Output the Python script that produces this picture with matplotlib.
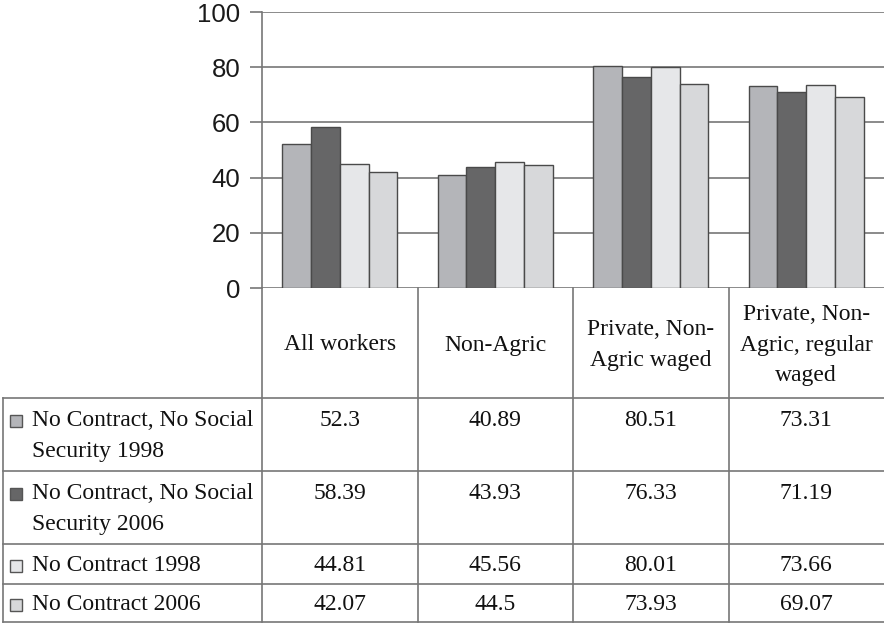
import matplotlib.pyplot as plt
from matplotlib.patches import Rectangle
import numpy as np

# --- Data ---
categories = ["All workers", "Non-Agric", "Private, Non-\nAgric waged",
              "Private, Non-\nAgric, regular\nwaged"]
series_names = ["No Contract, No Social\nSecurity 1998",
                "No Contract, No Social\nSecurity 2006",
                "No Contract 1998",
                "No Contract 2006"]
ncns_1998 = [52.3, 40.89, 80.51, 73.31]
ncns_2006 = [58.39, 43.93, 76.33, 71.19]
nc_1998 = [44.81, 45.56, 80.01, 73.66]
nc_2006 = [42.07, 44.5, 73.93, 69.07]
series_values = [ncns_1998, ncns_2006, nc_1998, nc_2006]
colors = ["#b4b5b9", "#666667", "#e6e7e9", "#d7d8da"]
yticks = [0, 20, 40, 60, 80, 100]

# --- Layout (pixels) ---
W, H = 884, 624
plot_left, plot_right, plot_top, plot_bottom = 262, 884, 12, 288
row_edges = [288, 398, 471, 544, 584, 622]
table_left = 3
line_col = "#777777"
edge_col = "#4a4a4a"

fig = plt.figure(figsize=(W / 100, H / 100), dpi=100)
ax = fig.add_axes([plot_left / W, 1 - plot_bottom / H,
                   (plot_right - plot_left) / W, (plot_bottom - plot_top) / H])

x = np.arange(len(categories))
bw = 0.185
for i, (vals, c) in enumerate(zip(series_values, colors)):
    ax.bar(x + (i - 1.5) * bw, vals, width=bw, color=c, edgecolor=edge_col,
           linewidth=1.0, zorder=3)

ax.set_xlim(-0.5, len(categories) - 0.5)
ax.set_ylim(0, 100)
ax.set_yticks(yticks)
ax.set_xticks([])
ax.yaxis.grid(True, color=line_col, linewidth=1.2)
ax.set_axisbelow(True)
for s in ["top", "right", "bottom"]:
    ax.spines[s].set_visible(False)
ax.spines["left"].set_color(line_col)
ax.spines["left"].set_linewidth(1.2)
ax.tick_params(axis="y", direction="out", length=8.6, width=1.2, color=line_col,
               pad=7, labelsize=18.5, labelcolor="#1a1a1a")
for lbl in ax.get_yticklabels():
    lbl.set_fontfamily("Liberation Sans")

# --- Data table below the chart ---
tab = fig.add_axes([0, 0, 1, 1], facecolor="none")
tab.set_xlim(0, W)
tab.set_ylim(H, 0)
tab.axis("off")

col_w = (plot_right - plot_left) / len(categories)
col_edges = [plot_left + k * col_w for k in range(len(categories) + 1)]
serif = "Liberation Serif"
fs = 17
ls = 1.6
line_step = 31

# horizontal lines
for k, y in enumerate(row_edges):
    if k == 0:
        continue
    tab.plot([table_left, W], [y, y], color=line_col, lw=1.2)
# vertical lines
for xe in col_edges[:-1]:
    tab.plot([xe, xe], [row_edges[0], row_edges[-1]], color=line_col, lw=1.2)
tab.plot([table_left, table_left], [row_edges[1], row_edges[-1]], color=line_col, lw=1.2)

# header
for k, cat in enumerate(categories):
    cx = (col_edges[k] + col_edges[k + 1]) / 2
    tab.text(cx, (row_edges[0] + row_edges[1]) / 2 + 2, cat, ha="center", va="center",
             fontsize=fs, family=serif, linespacing=ls, color="#111111")

# rows
for r, (name, vals, c) in enumerate(zip(series_names, series_values, colors)):
    y0, y1 = row_edges[r + 1], row_edges[r + 2]
    yc = (y0 + y1) / 2 + 1.5
    nlines = name.count("\n") + 1
    ty = yc - (nlines - 1) * line_step / 2
    tab.add_patch(Rectangle((10, ty - 6), 12, 12, facecolor=c, edgecolor="#555555", lw=1.0))
    tab.text(32, yc, name, ha="left", va="center", fontsize=fs, family=serif,
             linespacing=ls, color="#111111")
    for k, v in enumerate(vals):
        cx = (col_edges[k] + col_edges[k + 1]) / 2
        tab.text(cx, ty, str(v), ha="center", va="center", fontsize=fs,
                 family=serif, color="#111111")

fig.savefig("out.png", dpi=100)
